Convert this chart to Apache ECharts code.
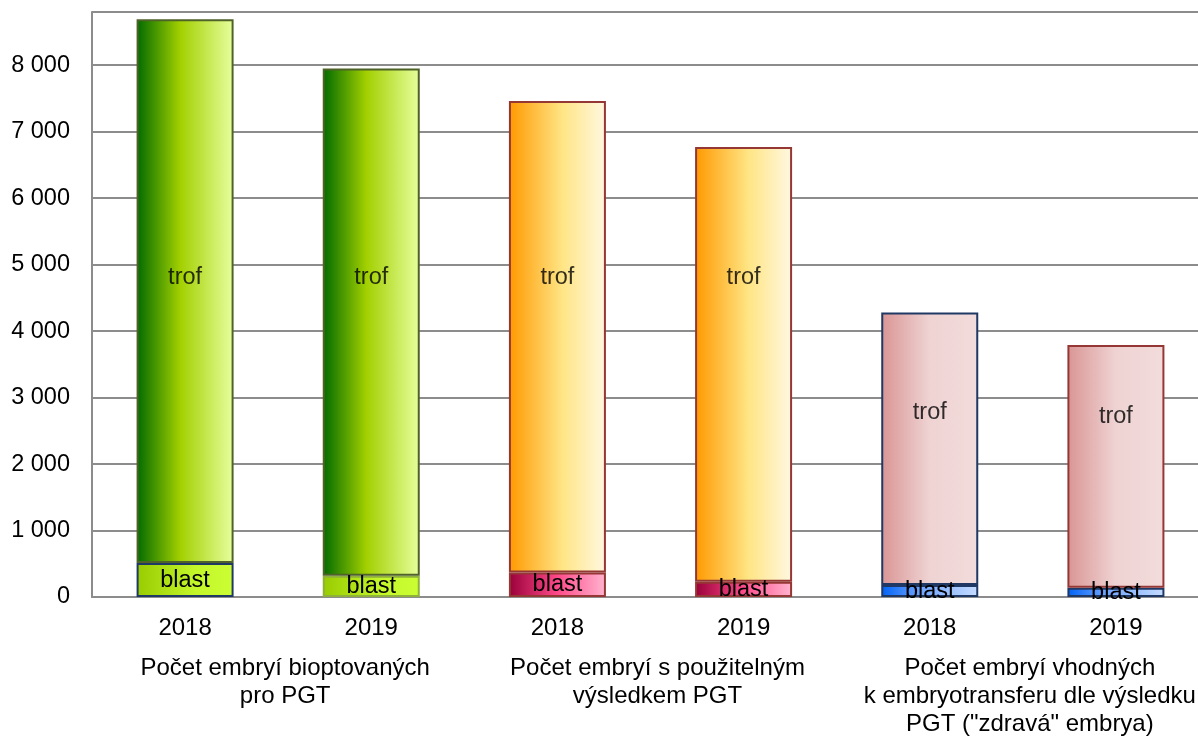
<!DOCTYPE html>
<html>
<head>
<meta charset="utf-8">
<script src="https://cdn.jsdelivr.net/npm/echarts@6/dist/echarts.min.js"></script>
<style>
  html, body { margin: 0; padding: 0; background: #fff; overflow: hidden; }
  #chart { width: 1198px; height: 736px; }
</style>
</head>
<body>
<div id="chart"></div>
<script>
// Embryos after PGT biopsy: blastomere (blast) vs trophectoderm (trof) biopsies
const years = ['2018', '2019', '2018', '2019', '2018', '2019'];
const groups = [
  'Počet embryí bioptovaných\npro PGT',
  'Počet embryí s použitelným\nvýsledkem PGT',
  'Počet embryí vhodných\nk embryotransferu dle výsledku\nPGT ("zdravá" embrya)'
];
const blast = [510, 320, 370, 230, 180, 140];
const trof = [8180, 7630, 7090, 6540, 4100, 3650];
const yTicks = [0, 1000, 2000, 3000, 4000, 5000, 6000, 7000, 8000];

const FONT = '"Liberation Sans", Arial, sans-serif';

function hGrad(stops) {
  return new echarts.graphic.LinearGradient(0, 0, 1, 0,
    stops.map(([offset, color]) => ({ offset, color })));
}

// fills per bar (index = bar position)
const trofFill = [
  [[0, '#006a00'], [0.45, '#a2d000'], [1, '#e8ff9e']],
  [[0, '#006a00'], [0.45, '#a2d000'], [1, '#e8ff9e']],
  [[0, '#ff9900'], [0.55, '#ffe584'], [1, '#fff8e2']],
  [[0, '#ff9900'], [0.55, '#ffe584'], [1, '#fff8e2']],
  [[0, '#d99594'], [0.5, '#efd3d3'], [1, '#f2dcdb']],
  [[0, '#d99594'], [0.5, '#efd3d3'], [1, '#f2dcdb']]
];
const trofBorder = ['#4f6228', '#4f6228', '#953735', '#953735', '#1f3864', '#953735'];
const blastFill = [
  [[0, '#99cc00'], [0.6, '#c4f72a'], [1, '#ccff33']],
  [[0, '#99cc00'], [0.6, '#c4f72a'], [1, '#ccff33']],
  [[0, '#99003a'], [0.5, '#ff4a8a'], [1, '#ffb5d0']],
  [[0, '#99003a'], [0.5, '#ff4a8a'], [1, '#ffb5d0']],
  [[0, '#0062f5'], [0.4, '#6ea4ff'], [1, '#c6dcff']],
  [[0, '#0062f5'], [0.4, '#6ea4ff'], [1, '#c6dcff']]
];
const blastBorder = ['#1f3864', '#8fb03a', '#953735', '#953735', '#1f3864', '#1f3864'];

// value-axis heights where the "trof" captions sit
const trofCaptionAt = [4800, 4800, 4800, 4800, 2770, 2720];

const labelStyle = { color: '#000', fontSize: 23.5, fontFamily: FONT };
const catStyle = { color: '#000', fontSize: 24, fontFamily: FONT };

const chart = echarts.init(document.getElementById('chart'), null, { renderer: 'canvas' });

chart.setOption({
  animation: false,
  backgroundColor: '#fff',
  // plot area runs slightly past the right edge of the page
  grid: { left: 92, width: 1117, top: 12, height: 585, outerBoundsMode: 'none', containLabel: false },
  xAxis: [
    {
      type: 'category',
      data: years,
      axisLine: { show: true, lineStyle: { color: '#8c8c8c', width: 2 } },
      axisTick: { show: false },
      axisLabel: { ...catStyle, margin: 18, lineHeight: 26 }
    },
    {
      type: 'category',
      position: 'bottom',
      data: groups,
      axisLine: { show: false },
      axisTick: { show: false },
      axisLabel: { ...catStyle, margin: 57, lineHeight: 28, align: 'center',
        padding: [0, 0, 0, 14], interval: 0 }
    }
  ],
  yAxis: {
    type: 'value',
    min: 0,
    max: 8800,
    interval: 1000,
    axisLine: { show: true, lineStyle: { color: '#8c8c8c', width: 2 } },
    axisTick: { show: false },
    axisLabel: {
      ...labelStyle,
      margin: 22,
      formatter: v => yTicks.includes(v) ? String(v).replace(/\B(?=(\d{3})+(?!\d))/g, ' ') : ''
    },
    splitLine: { show: true, lineStyle: { color: '#8c8c8c', width: 2 } }
  },
  series: [
    {
      name: 'blast',
      type: 'bar',
      stack: 'total',
      barWidth: 97,
      data: blast.map((v, i) => ({
        value: v,
        itemStyle: { color: hGrad(blastFill[i]), borderColor: blastBorder[i], borderWidth: 2 }
      })),
      label: { show: true, position: 'inside', formatter: 'blast', ...labelStyle }
    },
    {
      name: 'trof',
      type: 'bar',
      stack: 'total',
      barWidth: 97,
      data: trof.map((v, i) => ({
        value: v,
        itemStyle: { color: hGrad(trofFill[i]), borderColor: trofBorder[i], borderWidth: 2 }
      }))
    },
    {
      name: 'trof-caption',
      type: 'scatter',
      silent: true,
      z: 5,
      symbolSize: 1,
      itemStyle: { color: 'rgba(0,0,0,0)' },
      data: trofCaptionAt.map((v, i) => [i, v]),
      label: { show: true, position: 'inside', formatter: 'trof', ...labelStyle }
    }
  ]
});
</script>
</body>
</html>
